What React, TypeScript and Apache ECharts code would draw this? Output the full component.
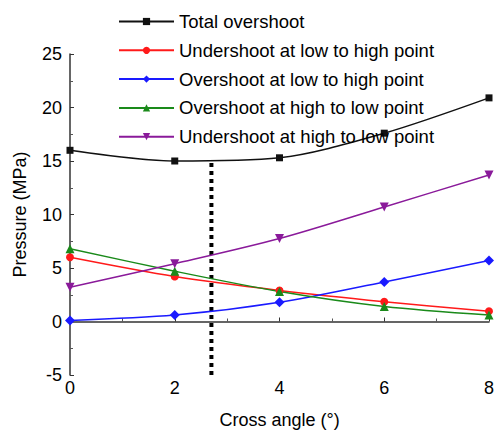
import React, { useEffect, useRef } from "react";
import * as echarts from "echarts";

const angles = [0, 2, 4, 6, 8];
const totalOvershoot = [16.0, 15.0, 15.3, 17.6, 20.9];
const underLowHigh = [6.0, 4.2, 2.9, 1.85, 0.95];
const overLowHigh = [0.1, 0.6, 1.8, 3.7, 5.7];
const overHighLow = [6.8, 4.7, 2.8, 1.4, 0.6];
const underHighLow = [3.2, 5.4, 7.75, 10.7, 13.7];
const optimumAngle = 2.7;
const optimumRange = [-5, 14.9];

const names = [
  "Total overshoot",
  "Undershoot at low to high point",
  "Overshoot at low to high point",
  "Overshoot at high to low point",
  "Undershoot at high to low point",
];

export default function App() {
  const ref = useRef<HTMLDivElement>(null);
  useEffect(() => {
    const chart = echarts.init(ref.current!, null, { renderer: "svg" });
    const font = "'Liberation Sans', Arial, sans-serif";
    const mk = (
      name: string,
      vals: number[],
      color: string,
      symbol: string,
      rotate = 0,
      size = 8
    ) => ({
      name,
      type: "line",
      smooth: 0.3,
      data: angles.map((a, i) => [a, vals[i]]),
      symbol,
      symbolSize: size,
      symbolRotate: rotate,
      showAllSymbol: true,
      itemStyle: { color },
      lineStyle: { color, width: 1.5 },
      z: 3,
    });
    chart.setOption({
      animation: false,
      backgroundColor: "#ffffff",
      textStyle: { fontFamily: font, color: "#000" },
      legend: {
        data: names,
        orient: "vertical",
        left: 113,
        top: 7,
        itemGap: 9.8,
        itemWidth: 55,
        itemHeight: 9,
        textStyle: { fontSize: 18.5, color: "#000", fontFamily: font },
      },
      grid: { left: 70, right: 5, top: 54, bottom: 57, containLabel: false, outerBoundsMode: "none" },
      xAxis: {
        type: "value",
        min: 0,
        max: 8,
        interval: 2,
        name: "Cross angle (°)",
        nameLocation: "middle",
        nameGap: 36,
        nameTextStyle: { fontSize: 18, color: "#000", fontFamily: font },
        axisLine: { show: true, lineStyle: { color: "#333", width: 1.5 } },
        axisTick: { show: true, inside: true, length: 4, lineStyle: { color: "#333" } },
        minorTick: { show: true, splitNumber: 2, length: 3, lineStyle: { color: "#555" } },
        axisLabel: { fontSize: 18, color: "#000", margin: 4, fontFamily: font },
        splitLine: { show: false },
      },
      yAxis: {
        type: "value",
        min: -5,
        max: 25,
        interval: 5,
        name: "Pressure (MPa)",
        nameLocation: "middle",
        nameGap: 41,
        nameTextStyle: { fontSize: 18, color: "#000", fontFamily: font },
        axisLine: { show: true, lineStyle: { color: "#333", width: 1.5 } },
        axisTick: { show: true, inside: true, length: 4, lineStyle: { color: "#333" } },
        minorTick: { show: true, splitNumber: 2, length: 3, lineStyle: { color: "#555" } },
        axisLabel: { fontSize: 18, color: "#000", margin: 8, fontFamily: font },
        splitLine: { show: false },
      },
      series: [
        mk(names[0], totalOvershoot, "#111111", "rect", 0, 7),
        mk(names[1], underLowHigh, "#ff1a1a", "circle", 0, 8),
        mk(names[2], overLowHigh, "#1a1aff", "diamond", 0, 10),
        mk(names[3], overHighLow, "#1a8a1a", "triangle", 0, 9),
        mk(names[4], underHighLow, "#8a1a9a", "triangle", 180, 9),
        {
          name: "optimum",
          type: "line",
          data: optimumRange.map((v) => [optimumAngle, v]),
          symbol: "none",
          lineStyle: { color: "#000", width: 4, type: [4, 4] },
          z: 2,
        },
      ],
    });
    return () => chart.dispose();
  }, []);
  return <div ref={ref} style={{ width: 494, height: 432, position: "absolute", left: 0, top: 0 }} />;
}
